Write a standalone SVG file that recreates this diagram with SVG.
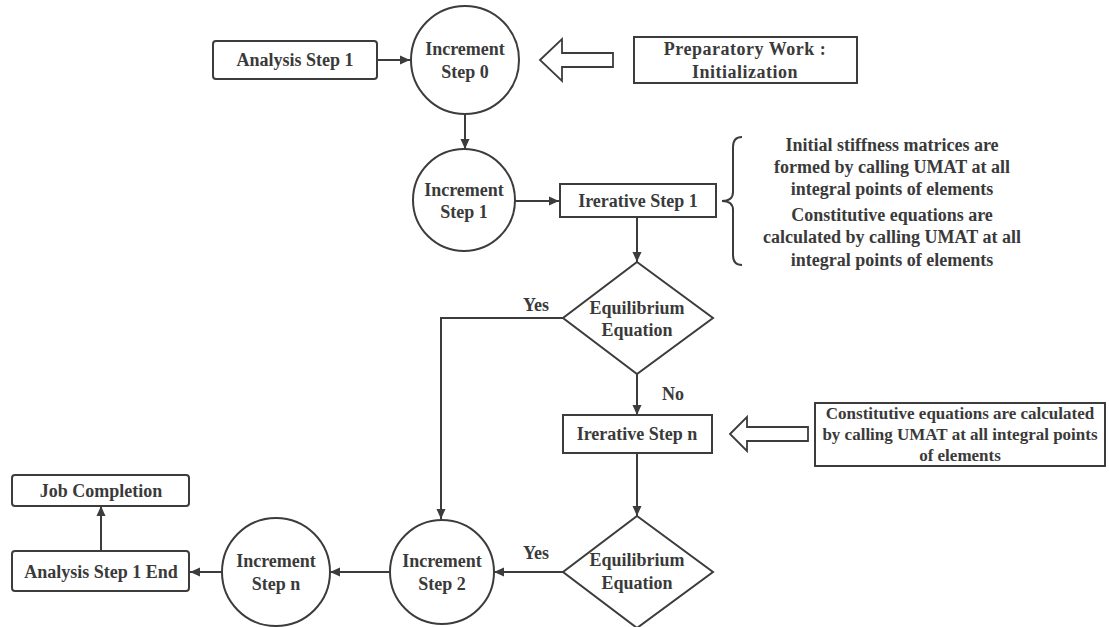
<svg xmlns="http://www.w3.org/2000/svg" width="1109" height="627" viewBox="0 0 1109 627">
<defs>
<marker id="ah" viewBox="0 0 10 10" refX="10" refY="5" markerWidth="10" markerHeight="10" markerUnits="userSpaceOnUse" orient="auto">
<path d="M0,0.5 L10,5 L0,9.5 Z" fill="#3c3c3c"/>
</marker>
<style>
.s{fill:#fff;stroke:#3c3c3c;stroke-width:2}
.c{fill:none;stroke:#3c3c3c;stroke-width:2}
.t{font-family:"Liberation Serif","Times New Roman",serif;font-weight:bold;font-size:18px;fill:#3a3a3a;text-anchor:middle;dominant-baseline:central}
.sm{font-size:17px}
.hl{fill:#fff;stroke:#3c3c3c;stroke-width:1.8;stroke-linejoin:miter}
</style>
</defs>
<rect width="1109" height="627" fill="#fff"/>
<g id="connectors">
<line class="c" x1="377" y1="60" x2="410" y2="60" marker-end="url(#ah)"/>
<line class="c" x1="465" y1="114" x2="465" y2="149" marker-end="url(#ah)"/>
<line class="c" x1="515" y1="201" x2="559" y2="201" marker-end="url(#ah)"/>
<line class="c" x1="637" y1="217" x2="637" y2="262" marker-end="url(#ah)"/>
<polyline class="c" points="563,318 441,318 441,519" marker-end="url(#ah)"/>
<line class="c" x1="637" y1="374" x2="637" y2="415" marker-end="url(#ah)"/>
<line class="c" x1="637" y1="453" x2="637" y2="516" marker-end="url(#ah)"/>
<line class="c" x1="563" y1="572" x2="494" y2="572" marker-end="url(#ah)"/>
<line class="c" x1="389" y1="572" x2="330" y2="572" marker-end="url(#ah)"/>
<line class="c" x1="222" y1="572" x2="190" y2="572" marker-end="url(#ah)"/>
<line class="c" x1="101" y1="551" x2="101" y2="506" marker-end="url(#ah)"/>
<path class="hl" d="M540,60 L562,39 L562,53 L613,53 L613,67 L562,67 L562,81 Z"/>
<path class="hl" d="M730,434 L747,417 L747,427 L808,427 L808,441 L747,441 L747,451 Z"/>
<path class="c" d="M742,137 Q733,137 733,147 L733,192 Q733,201 722,201 Q733,201 733,210 L733,255 Q733,265 742,265"/>
</g>
<g id="analysis-step-1"><rect class="s" x="213" y="41" width="164" height="38" rx="3"/><text class="t" x="295" y="60">Analysis Step 1</text></g>
<g id="increment-0"><circle class="s" cx="465" cy="60" r="54"/><text class="t" x="465" y="49">Increment</text><text class="t" x="465" y="72">Step 0</text></g>
<g id="preparatory"><rect class="s" x="634" y="37" width="223" height="46"/><text class="t" x="745" y="49" letter-spacing="0.5">Preparatory Work :</text><text class="t" x="745" y="72" letter-spacing="0.5">Initialization</text></g>
<g id="increment-1"><circle class="s" cx="464" cy="200" r="51"/><text class="t" x="464" y="190">Increment</text><text class="t" x="464" y="212">Step 1</text></g>
<g id="iterative-1"><rect class="s" x="560" y="184" width="156" height="33"/><text class="t" x="638" y="201">Irerative Step 1</text></g>
<g id="note-1">
<text class="t" x="892" y="145">Initial stiffness matrices are</text>
<text class="t" x="892" y="167">formed by calling UMAT at all</text>
<text class="t" x="892" y="189">integral points of elements</text>
<text class="t" x="892" y="215">Constitutive equations are</text>
<text class="t" x="892" y="237">calculated by calling UMAT at all</text>
<text class="t" x="892" y="260">integral points of elements</text>
</g>
<g id="equilibrium-1"><polygon class="s" points="637,262 713,318 637,374 563,318"/><text class="t" x="637" y="308">Equilibrium</text><text class="t" x="637" y="330">Equation</text></g>
<g id="label-yes-1"><text class="t" x="536" y="305">Yes</text></g>
<g id="label-no"><text class="t" x="673" y="394">No</text></g>
<g id="iterative-n"><rect class="s" x="563" y="415" width="149" height="38"/><text class="t" x="637" y="434">Irerative Step n</text></g>
<g id="note-2"><rect class="s" x="815" y="403" width="290" height="63"/><text class="t sm" x="960" y="413">Constitutive equations are calculated</text><text class="t sm" x="960" y="434">by calling UMAT at all integral points</text><text class="t sm" x="960" y="455">of elements</text></g>
<g id="equilibrium-2"><polygon class="s" points="637,516 713,572 637,628 563,572"/><text class="t" x="637" y="560">Equilibrium</text><text class="t" x="637" y="583">Equation</text></g>
<g id="label-yes-2"><text class="t" x="536" y="553">Yes</text></g>
<g id="increment-2"><circle class="s" cx="442" cy="572" r="52"/><text class="t" x="442" y="561">Increment</text><text class="t" x="442" y="584">Step 2</text></g>
<g id="increment-n"><circle class="s" cx="276" cy="572" r="54"/><text class="t" x="276" y="561">Increment</text><text class="t" x="276" y="584">Step n</text></g>
<g id="analysis-end"><rect class="s" x="12" y="551" width="177" height="40" rx="3"/><text class="t" x="101" y="572">Analysis Step 1 End</text></g>
<g id="job-completion"><rect class="s" x="12" y="475" width="177" height="31" rx="3"/><text class="t" x="101" y="491">Job Completion</text></g>
</svg>
